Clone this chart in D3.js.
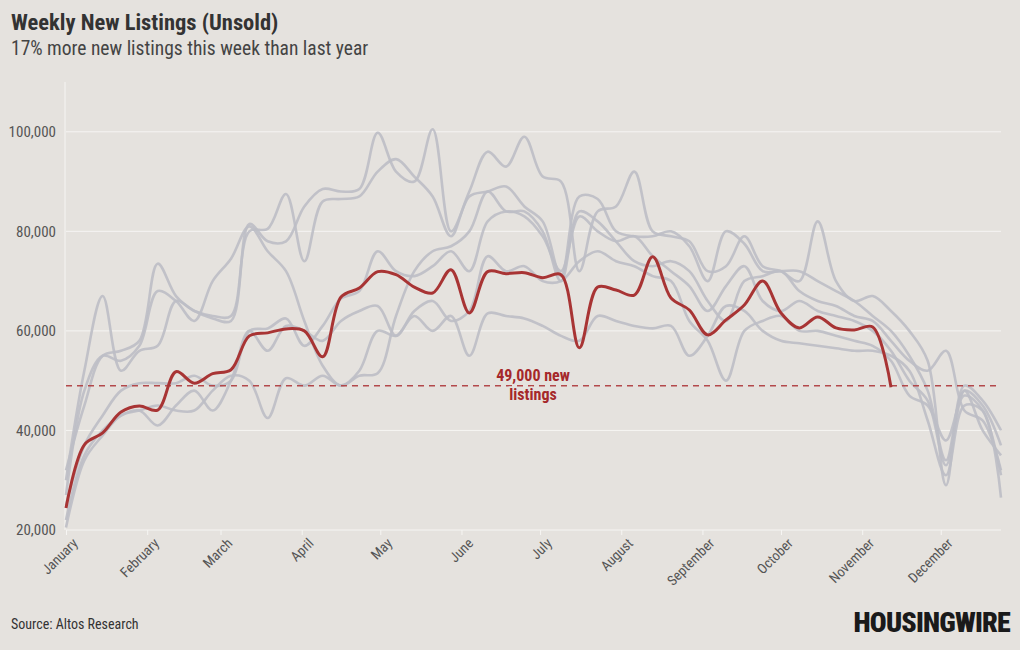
<!DOCTYPE html>
<html>
<head>
<meta charset="utf-8">
<script src="https://cdn.jsdelivr.net/npm/d3@7"></script>
<style>
  html, body { margin: 0; padding: 0; background: #e5e2de; }
  svg { display: block; }
  text { font-family: "Roboto Condensed", "Liberation Sans Narrow", "Roboto", sans-serif; }
</style>
</head>
<body>
<svg id="chart" width="1020" height="650"></svg>
<script>
// ---- data (values in listings, weekly) ----
const monthLabels = ["January","February","March","April","May","June","July","August","September","October","November","December"];
const monthStartDays = [0,31,59,90,120,151,181,212,243,273,304,334];
const yTicks = [20000, 40000, 60000, 80000, 100000];

const currentYear = [24400,37100,39500,43700,44900,44100,51800,49500,51400,52200,
  59000,59600,60400,60000,54800,66800,68600,71900,71300,68800,
  67600,72300,63600,71900,71500,71700,70700,71300,56600,68800,
  68200,67200,74900,66600,64200,59200,62200,65200,70000,63600,
  60600,62800,60600,60200,60800,48700];

const prior1 = [30,52,67,52,56,57,66,64,63,63,80,80.5,87.5,74,86,86.5,87,92,94.5,91,87,79,87,88,89,85,82,71,87,86.5,80,79,79,80,77,70,80,77.5,72,72,72,70,68,66,63,60,55,48,34,48,45,37];
const prior2 = [32,45,55,56,58,73.5,67,64,62.5,62,81.5,78,78,85,88.5,88,88.5,99.8,92,90,100.5,80,88,96,93,99,91,90,72,84,85,92,80,79,78,72,73,79,73,72,70,82,70,66,67,64,60,54,29,49,46,40];
const prior3 = [27,48,55,54,57,68,66,62,70,74.5,81,76,72,62,53,49,51,51.5,63,72,76,77,80,88,84,84,80,70,84,82,78,74,73,74,72,66,62,70,71,72,68,66,65,63,62,58,54,52,56,44,42,32];
const prior4 = [25,37,43,48,49.5,49.5,49.5,51,49,50,60,60.5,62.5,57,61,66.5,68,76,72,71,73,76,72,82,84,83,79,72,83,80,78,79,75,72,69,64,69,73,66,64,66,64,63,62,60,56,50,46,33,48,40,35];
const prior5 = [22,35,40,43,44,41,45,48,44,50,60,56,61,60,58,62,64,65,59,64,66,62,64,75,72,73,70,70,74,76,74,73,71,70,62,58,50,60,62,63,60,60,59,58,57,54,47,45,38,47,44,31];
const prior6 = [20.5,34,39,43,44,45,44,44,48,51,50,42.5,50.5,49,51,49,52,60,59,63,60,63,55,63.5,63,62.5,61,59,58,63,62,61,60.5,61,55,59,65,64,60,58,57.5,57,56.5,56,56,55,52,42,31,45,44,26.5];
const priorYears = [prior1, prior2, prior3, prior4, prior5, prior6];
const referenceValue = 49000;

// ---- layout ----
const svg = d3.select("#chart");
const plotLeft = 66, plotRight = 1001, plotTop = 82, plotBottom = 530;

const x = d3.scaleLinear().domain([0, 51]).range([plotLeft, plotRight]);
const y = d3.scaleLinear().domain([20000, 110000]).range([plotBottom, plotTop]);

// gridlines
svg.append("g").selectAll("line").data(yTicks).join("line")
  .attr("x1", plotLeft).attr("x2", plotRight)
  .attr("y1", d => y(d)).attr("y2", d => y(d))
  .attr("stroke", "#f6f5f3").attr("stroke-width", 1);

// vertical axis line
svg.append("line").attr("x1", plotLeft - 1).attr("x2", plotLeft - 1)
  .attr("y1", plotTop).attr("y2", plotBottom)
  .attr("stroke", "#f6f5f3").attr("stroke-width", 1);

// y axis labels
const yAxis = d3.axisLeft(y).tickValues(yTicks).tickFormat(d3.format(",")).tickSize(0).tickPadding(10);
const gy = svg.append("g").attr("transform", `translate(${plotLeft},0)`).call(yAxis);
gy.select(".domain").remove();
gy.selectAll("text").attr("font-size", 15).attr("fill", "#555");

// x axis (month ticks)
const monthPos = monthStartDays.map(d => d / 7);
const xAxis = d3.axisBottom(x).tickValues(monthPos)
  .tickFormat((d, i) => monthLabels[i]).tickSize(5).tickPadding(6);
const gx = svg.append("g").attr("transform", `translate(0,${plotBottom})`).call(xAxis);
gx.select(".domain").remove();
gx.selectAll(".tick line").attr("stroke", "#f6f5f3");
gx.selectAll("text")
  .attr("font-size", 14).attr("fill", "#555")
  .attr("text-anchor", "end")
  .attr("transform", "rotate(-45)")
  .attr("dx", "-0.1em").attr("dy", "0.55em");

// lines
const lineGray = d3.line()
  .x((d, i) => x(i)).y(d => y(d * 1000))
  .curve(d3.curveCatmullRom.alpha(0.5));
svg.append("g").selectAll("path").data(priorYears).join("path")
  .attr("d", lineGray)
  .attr("fill", "none")
  .attr("stroke", "#bcbec5")
  .attr("stroke-width", 2.6)
  .attr("stroke-opacity", 0.9);

// reference dashed line
svg.append("line")
  .attr("x1", plotLeft).attr("x2", plotRight)
  .attr("y1", y(referenceValue)).attr("y2", y(referenceValue))
  .attr("stroke", "#b3494b").attr("stroke-width", 1.5)
  .attr("stroke-dasharray", "6,5");

// current year line
const lineRed = d3.line()
  .x((d, i) => x(i)).y(d => y(d))
  .curve(d3.curveCatmullRom.alpha(0.5));
svg.append("path").datum(currentYear)
  .attr("d", lineRed)
  .attr("fill", "none")
  .attr("stroke", "#a83434")
  .attr("stroke-width", 3);

// annotation
const ann = svg.append("text")
  .attr("x", 533).attr("y", y(referenceValue) - 5)
  .attr("text-anchor", "middle")
  .attr("font-size", 16).attr("font-weight", "bold")
  .attr("fill", "#a5282a")
  .attr("stroke", "#e5e2de").attr("stroke-width", 3).attr("paint-order", "stroke");
ann.append("tspan").attr("x", 533).text("49,000 new");
ann.append("tspan").attr("x", 533).attr("dy", 19).text("listings");

// titles
svg.append("text").attr("x", 11).attr("y", 30)
  .attr("font-size", 22.5).attr("font-weight", "bold").attr("fill", "#333")
  .text("Weekly New Listings (Unsold)");
svg.append("text").attr("x", 11).attr("y", 55)
  .attr("font-size", 19.5).attr("fill", "#444")
  .text("17% more new listings this week than last year");

// footer
svg.append("text").attr("x", 11).attr("y", 629)
  .attr("font-size", 14).attr("fill", "#333")
  .text("Source: Altos Research");
svg.append("text").attr("x", 1010).attr("y", 632)
  .attr("text-anchor", "end")
  .attr("font-size", 28).attr("font-weight", "900").attr("fill", "#1a1a1a")
  .attr("letter-spacing", "-0.8")
  .text("HOUSINGWIRE");
</script>
</body>
</html>
